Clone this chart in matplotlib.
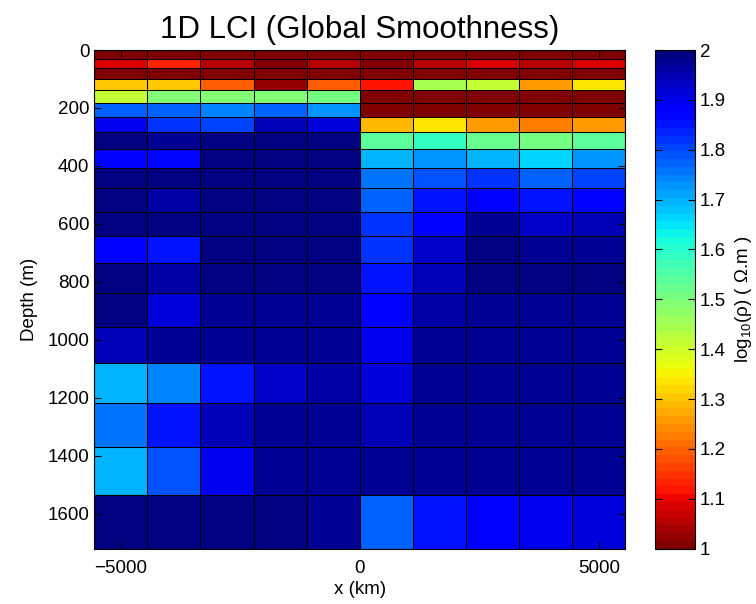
import numpy as np
import matplotlib
matplotlib.use("Agg")
import matplotlib.pyplot as plt

plt.rcParams["font.family"] = ["Liberation Sans", "DejaVu Sans"]
plt.rcParams["mathtext.fontset"] = "custom"
plt.rcParams["mathtext.rm"] = "Liberation Sans"
plt.rcParams["mathtext.it"] = "Liberation Sans:italic"

# sounding positions (km) and layer boundaries (m)
x_centers = [-5000, -3889, -2778, -1667, -556, 556, 1667, 2778, 3889, 5000]
depth_edges = [0, 31, 63, 100, 139, 183, 232, 284, 342, 406, 477,
               558, 641, 736, 839, 954, 1080, 1217, 1370, 1536, 1720]

# log10(rho) per layer (rows) and sounding (columns)
log_rho = [
    [1.00, 1.00, 1.00, 1.00, 1.00, 1.00, 1.00, 1.00, 1.00, 1.00],
    [1.09, 1.13, 1.055, 1.01, 1.055, 1.00, 1.055, 1.09, 1.05, 1.08],
    [1.00, 1.00, 1.00, 1.00, 1.00, 1.00, 1.00, 1.00, 1.00, 1.00],
    [1.31, 1.31, 1.20, 1.03, 1.19, 1.11, 1.45, 1.42, 1.25, 1.33],
    [1.42, 1.485, 1.485, 1.485, 1.515, 1.00, 1.00, 1.00, 1.00, 1.00],
    [1.78, 1.78, 1.735, 1.775, 1.725, 1.00, 1.00, 1.00, 1.00, 1.00],
    [1.895, 1.825, 1.80, 1.94, 1.91, 1.295, 1.34, 1.25, 1.225, 1.26],
    [1.99, 1.98, 1.99, 1.99, 1.99, 1.54, 1.59, 1.53, 1.50, 1.54],
    [1.885, 1.86, 1.99, 1.99, 1.99, 1.69, 1.72, 1.70, 1.67, 1.72],
    [1.99, 1.99, 1.99, 1.99, 1.99, 1.76, 1.79, 1.825, 1.775, 1.805],
    [1.99, 1.96, 1.99, 1.99, 1.99, 1.78, 1.857, 1.89, 1.85, 1.875],
    [1.99, 2.00, 1.99, 1.99, 1.99, 1.825, 1.88, 1.975, 1.93, 1.94],
    [1.875, 1.857, 1.99, 1.99, 1.99, 1.825, 1.925, 2.00, 1.975, 1.975],
    [1.99, 1.955, 1.99, 1.99, 1.99, 1.85, 1.95, 2.00, 1.99, 2.00],
    [1.99, 1.91, 1.98, 1.97, 1.98, 1.89, 1.96, 1.97, 1.97, 1.97],
    [1.94, 1.975, 1.98, 1.98, 1.98, 1.90, 1.97, 1.97, 1.97, 1.97],
    [1.69, 1.74, 1.85, 1.925, 1.96, 1.91, 1.97, 1.97, 1.97, 1.97],
    [1.75, 1.845, 1.94, 1.97, 1.97, 1.95, 1.97, 1.97, 1.98, 1.97],
    [1.70, 1.79, 1.90, 1.97, 1.98, 1.97, 1.97, 1.97, 1.97, 1.97],
    [1.99, 1.99, 1.99, 1.99, 1.98, 1.77, 1.85, 1.88, 1.90, 1.91],
]

xc = np.array(x_centers, dtype=float)
mid = (xc[:-1] + xc[1:]) / 2
x_edges = np.concatenate([[xc[0] - (mid[0] - xc[0])], mid, [xc[-1] + (xc[-1] - mid[-1])]])

cmap = plt.get_cmap("jet_r", 64)

fig = plt.figure(figsize=(7.56, 6.04), dpi=100)
ax = fig.add_axes([0.1247, 0.0916, 0.7024, 0.8256])
cax = fig.add_axes([0.8664, 0.0916, 0.0529, 0.8256])

mesh = ax.pcolormesh(x_edges, depth_edges, np.array(log_rho), cmap=cmap,
                     vmin=1, vmax=2)
# cell borders drawn on top so every edge stays visible
ax.hlines(depth_edges, x_edges[0], x_edges[-1], colors="k", linewidth=0.75)
ax.vlines(x_edges, depth_edges[0], depth_edges[-1], colors="k", linewidth=0.75)

ax.set_xlim(x_edges[0], x_edges[-1])
ax.set_ylim(depth_edges[-1], 0)
ax.set_xticks([-5000, 0, 5000])
ax.set_xticklabels(["\u22125000", "0", "5000"])
ax.set_yticks(np.arange(0, 1601, 200))
ax.tick_params(direction="in", labelsize=13.5, length=5, top=True, right=True)
ax.tick_params(axis="x", pad=8)
ax.set_xlabel("x (km)", fontsize=13.5, labelpad=3)
ax.set_ylabel("Depth (m)", fontsize=13.5, labelpad=7)
ax.set_title("1D LCI (Global Smoothness)", fontsize=22.5, pad=9)

cb = fig.colorbar(mesh, cax=cax)
cb.set_ticks(np.arange(1, 2.01, 0.1))
cb.set_ticklabels(["1", "1.1", "1.2", "1.3", "1.4", "1.5", "1.6", "1.7", "1.8", "1.9", "2"])
cax.tick_params(direction="in", labelsize=13.5, length=5, left=True, right=True)
cb.outline.set_linewidth(0.8)
cb.set_label("log$_{10}$(\u03c1) ( \u03a9.m )", fontsize=13.5, labelpad=5)

fig.savefig("out.png", dpi=100)
